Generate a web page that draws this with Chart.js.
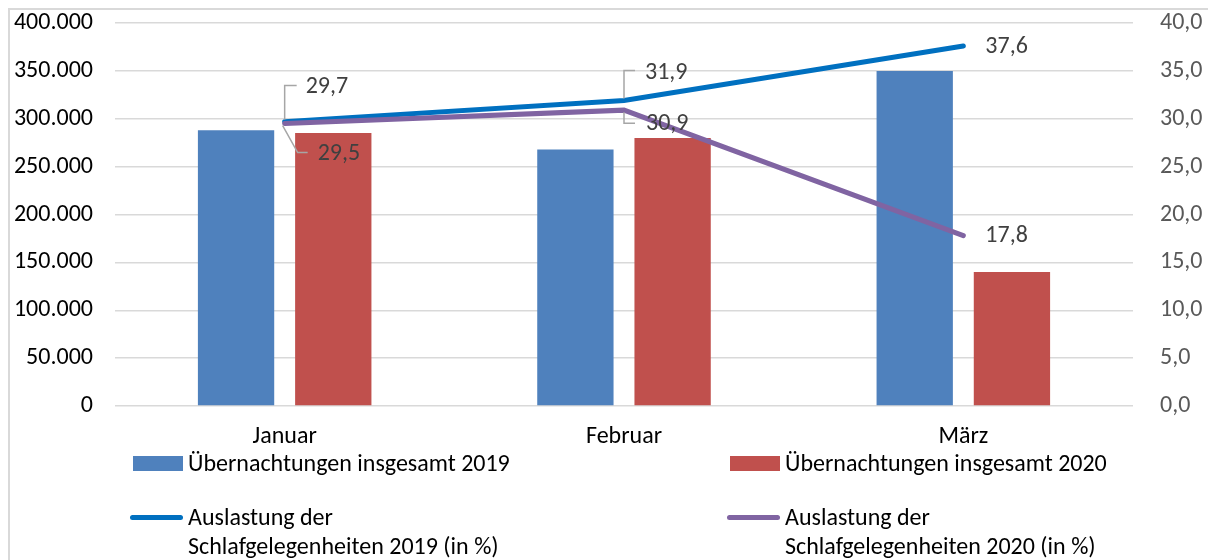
<!DOCTYPE html>
<html>
<head>
<meta charset="utf-8">
<script src="https://cdn.jsdelivr.net/npm/chart.js@4/dist/chart.umd.min.js"></script>
<style>
  html, body { margin: 0; padding: 0; background: #fff; }
  #wrap { position: relative; width: 1208px; height: 560px; overflow: hidden; }
  #frame { position: absolute; left: 8px; top: 8px; width: 1400px; height: 800px;
           border: 2px solid #d9d9d9; box-sizing: border-box; pointer-events: none; }
  canvas { position: absolute; left: 0; top: 0; }
  #legend { position: absolute; left: 0; top: 0; width: 1208px; height: 560px;
            font-family: 'Carlito', 'Open Sans', sans-serif; font-size: 24px; color: #000; }
  .item { position: absolute; line-height: 29px; white-space: nowrap; }
  .sw { position: absolute; }
</style>
</head>
<body>
<div id="wrap">
  <canvas id="chart" width="1208" height="560"></canvas>
  <div id="legend"></div>
  <div id="frame"></div>
</div>
<script>
// ── DATA ──
const months      = ['Januar', 'Februar', 'März'];
const nights2019  = [288000, 268000, 350000];
const nights2020  = [285000, 280000, 140000];
const usage2019   = [29.7, 31.9, 37.6];
const usage2020   = [29.5, 30.9, 17.8];

const COLORS = {
  bar2019:  '#4f81bd',
  bar2020:  '#c0504d',
  line2019: '#0070c0',
  line2020: '#8064a2',
  grid:     '#d9d9d9',
};

const FONT = "'Carlito', 'Open Sans', sans-serif";
const fmtInt = v => v.toLocaleString('de-DE');
const fmtPct = v => v.toFixed(1).replace('.', ',');

// ── DATA LABELS WITH LEADER LINES ──
// offsets relative to the point: text anchor + optional leader path
const labelLayout = {
  2: [ { dx: 21, dy: -35, leader: [[0, -2], [0, -36], [12, -36]] },
       { dx: 21, dy: -28, leader: [[0, -2], [0, -30], [11, -30]] },
       { dx: 22, dy: 1 } ],
  3: [ { dx: 33, dy: 30, leader: [[-2, 2], [13, 29], [23, 29]] },
       { dx: 22, dy: 14, leader: [[0, 2], [0, 13], [11, 13]] },
       { dx: 22, dy: 0 } ],
};

const lineLabels = {
  id: 'lineLabels',
  afterDatasetsDraw(chart) {
    const ctx = chart.ctx;
    ctx.save();
    Object.keys(labelLayout).forEach(di => {
      const meta = chart.getDatasetMeta(+di);
      const ds = chart.data.datasets[di];
      meta.data.forEach((pt, i) => {
        const l = labelLayout[di][i];
        if (l.leader) {
          ctx.strokeStyle = '#a6a6a6';
          ctx.lineWidth = 1.5;
          ctx.beginPath();
          l.leader.forEach(([x, y], k) => {
            if (k === 0) ctx.moveTo(pt.x + x, pt.y + y);
            else ctx.lineTo(pt.x + x, pt.y + y);
          });
          ctx.stroke();
        }
        ctx.fillStyle = '#404040';
        ctx.font = '24px ' + FONT;
        ctx.textAlign = 'left';
        ctx.textBaseline = 'middle';
        ctx.fillText(fmtPct(ds.data[i]), pt.x + l.dx, pt.y + l.dy);
      });
    });
    ctx.restore();
  }
};

// y axes: fixed width, no extra top/bottom padding from tick labels
const fitY = w => s => { s.width = w; s.paddingTop = 0; s.paddingBottom = 0; };

// ── CHART ──
const chart = new Chart(document.getElementById('chart'), {
  type: 'bar',
  data: {
    labels: months,
    datasets: [
      { type: 'bar', label: 'Übernachtungen insgesamt 2019', data: nights2019,
        backgroundColor: COLORS.bar2019, yAxisID: 'y', order: 2,
        categoryPercentage: 0.573, barPercentage: 0.785 },
      { type: 'bar', label: 'Übernachtungen insgesamt 2020', data: nights2020,
        backgroundColor: COLORS.bar2020, yAxisID: 'y', order: 2,
        categoryPercentage: 0.573, barPercentage: 0.785 },
      { type: 'line', label: 'Auslastung der Schlafgelegenheiten 2019 (in %)', data: usage2019,
        borderColor: COLORS.line2019, backgroundColor: COLORS.line2019, borderWidth: 5,
        pointRadius: 0, tension: 0, yAxisID: 'y1', order: 1, borderCapStyle: 'round' },
      { type: 'line', label: 'Auslastung der Schlafgelegenheiten 2020 (in %)', data: usage2020,
        borderColor: COLORS.line2020, backgroundColor: COLORS.line2020, borderWidth: 5,
        pointRadius: 0, tension: 0, yAxisID: 'y1', order: 0, borderCapStyle: 'round' },
    ]
  },
  options: {
    responsive: false,
    animation: false,
    layout: { padding: { top: 23, bottom: 0, left: 0, right: 0 } },
    plugins: { legend: { display: false }, tooltip: { enabled: false } },
    scales: {
      x: {
        grid: { display: false, drawTicks: false },
        border: { display: false },
        ticks: { color: '#000', font: { family: FONT, size: 24 }, padding: 17 },
        afterFit: s => { s.height = 154; },
      },
      y: {
        position: 'left', min: 0, max: 400000,
        ticks: { stepSize: 50000, color: '#000', font: { family: FONT, size: 24 },
                 padding: 22, callback: v => fmtInt(v) },
        grid: { color: COLORS.grid, lineWidth: 1.5, drawTicks: false },
        border: { display: false },
        afterFit: fitY(115),
      },
      y1: {
        position: 'right', min: 0, max: 40,
        ticks: { stepSize: 5, color: '#595959', font: { family: FONT, size: 24 },
                 padding: 27, callback: v => fmtPct(v) },
        grid: { display: false, drawTicks: false },
        border: { display: false },
        afterFit: fitY(75),
      }
    }
  },
  plugins: [lineLabels]
});

// ── HTML LEGEND ──
const legendSpots = [
  { left: 133, top: 448, sw: { w: 50, h: 15, t: 8 } },
  { left: 730, top: 448, sw: { w: 50, h: 15, t: 8 } },
  { left: 130, top: 502, sw: { w: 53, h: 5, t: 13, line: true } },
  { left: 727, top: 502, sw: { w: 53, h: 5, t: 13, line: true } },
];
const legend = document.getElementById('legend');
chart.data.datasets.forEach((ds, i) => {
  const p = legendSpots[i];
  const item = document.createElement('div');
  item.className = 'item';
  item.style.left = p.left + 'px';
  item.style.top = p.top + 'px';
  const sw = document.createElement('div');
  sw.className = 'sw';
  sw.style.left = '0px';
  sw.style.top = p.sw.t + 'px';
  sw.style.width = p.sw.w + 'px';
  sw.style.height = p.sw.h + 'px';
  sw.style.background = ds.type === 'line' ? ds.borderColor : ds.backgroundColor;
  if (p.sw.line) sw.style.borderRadius = '3px';
  item.appendChild(sw);
  const txt = document.createElement('div');
  txt.style.marginLeft = (p.sw.w + 5) + 'px';
  if (ds.type === 'line') {
    txt.innerHTML = 'Auslastung der<br>' + ds.label.replace('Auslastung der ', '');
  } else {
    txt.textContent = ds.label;
  }
  item.appendChild(txt);
  legend.appendChild(item);
});
</script>
</body>
</html>
